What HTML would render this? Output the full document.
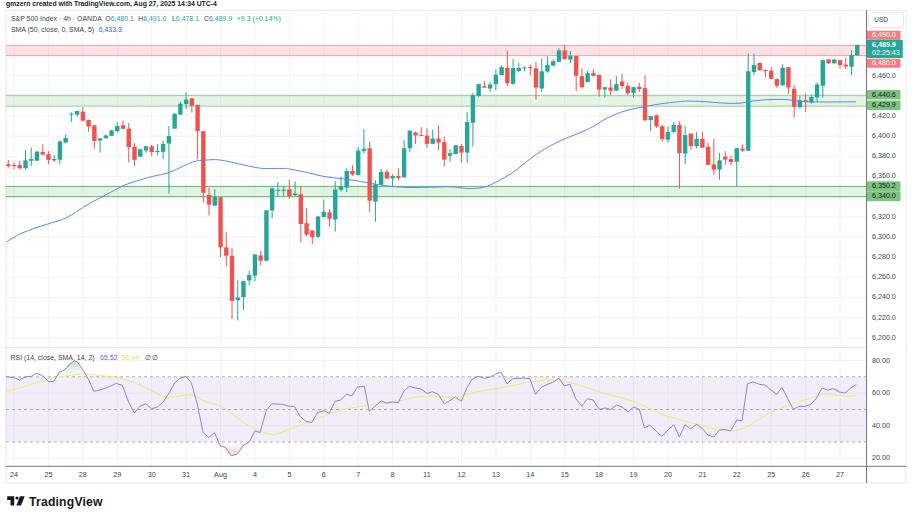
<!DOCTYPE html>
<html><head><meta charset="utf-8"><title>chart</title><style>
html,body{margin:0;padding:0;background:#fff;}
body{width:912px;height:513px;position:relative;overflow:hidden;font-family:"Liberation Sans",sans-serif;}
.t{position:absolute;white-space:nowrap;font-size:7.2px;line-height:10px;height:10px;color:#40434e;}
.hd{font-weight:bold;color:#20232c;font-size:6.85px;}
.lg{color:#40434e;font-size:6.95px;}
.lg b{font-weight:normal;color:#26a69a;}
.lg i{font-style:normal;color:#2962ff;}
.lg u{text-decoration:none;color:#7e57c2;}
.lg s{text-decoration:none;color:#f2e04a;}
.w{color:#fff;}
.k{color:#131722;}
.b{font-weight:bold;}
.logo{font-weight:bold;font-size:12.2px;color:#131722;line-height:14px;height:14px;letter-spacing:0.2px;}
</style></head><body>
<svg width="912" height="513" viewBox="0 0 912 513" style="position:absolute;left:0;top:0">
<rect x="6" y="10.2" width="900" height="472.8" fill="#fff" stroke="#e6e6ea" stroke-width="1"/>
<path d="M14.0 10.2V466.3 M48.4 10.2V466.3 M82.8 10.2V466.3 M117.3 10.2V466.3 M151.7 10.2V466.3 M186.1 10.2V466.3 M220.5 10.2V466.3 M254.9 10.2V466.3 M289.4 10.2V466.3 M323.8 10.2V466.3 M358.2 10.2V466.3 M392.6 10.2V466.3 M427.0 10.2V466.3 M461.5 10.2V466.3 M495.9 10.2V466.3 M530.3 10.2V466.3 M564.7 10.2V466.3 M599.1 10.2V466.3 M633.6 10.2V466.3 M668.0 10.2V466.3 M702.4 10.2V466.3 M736.8 10.2V466.3 M771.2 10.2V466.3 M805.7 10.2V466.3 M840.1 10.2V466.3 M6 337.8H866.5 M6 317.7H866.5 M6 297.5H866.5 M6 277.3H866.5 M6 257.2H866.5 M6 237.0H866.5 M6 216.9H866.5 M6 196.7H866.5 M6 176.5H866.5 M6 156.4H866.5 M6 136.2H866.5 M6 116.1H866.5 M6 95.9H866.5 M6 75.7H866.5 M6 55.6H866.5 M6 360.5H866.5 M6 393.1H866.5 M6 425.7H866.5 M6 458.3H866.5" stroke="#f3f3f6" stroke-width="1" fill="none"/>
<path d="M6 347.5H906" stroke="#e6e6ea" stroke-width="1"/>
<rect x="6" y="45.5" width="860.5" height="10.1" fill="rgba(242,54,69,0.15)"/>
<path d="M6 45.5H866.5M6 55.6H866.5" stroke="#f4a3a8" stroke-width="1"/>
<rect x="6" y="95.3" width="860.5" height="10.8" fill="rgba(76,175,80,0.14)"/>
<path d="M6 95.3H866.5M6 106.1H866.5" stroke="#93cf96" stroke-width="1"/>
<rect x="6" y="186.4" width="860.5" height="10.3" fill="rgba(76,175,80,0.16)"/>
<path d="M6 186.4H866.5M6 196.7H866.5" stroke="#5cb860" stroke-width="1"/>
<path d="M8.30 159.8V167.7" stroke="#ef5350" stroke-width="1"/>
<rect x="6.10" y="164.2" width="4.4" height="1.8" fill="#ef5350"/>
<path d="M14.04 162.5V169.5" stroke="#ef5350" stroke-width="1"/>
<rect x="11.84" y="165.0" width="4.4" height="1.0" fill="#ef5350"/>
<path d="M19.77 160.7V169.5" stroke="#ef5350" stroke-width="1"/>
<rect x="17.57" y="165.0" width="4.4" height="3.2" fill="#ef5350"/>
<path d="M25.51 150.0V169.5" stroke="#26a69a" stroke-width="1"/>
<rect x="23.31" y="160.4" width="4.4" height="7.8" fill="#26a69a"/>
<path d="M31.24 147.5V166.0" stroke="#26a69a" stroke-width="1"/>
<rect x="29.04" y="159.0" width="4.4" height="1.7" fill="#26a69a"/>
<path d="M36.98 151.1V161.0" stroke="#26a69a" stroke-width="1"/>
<rect x="34.78" y="151.6" width="4.4" height="9.1" fill="#26a69a"/>
<path d="M42.72 144.5V155.0" stroke="#ef5350" stroke-width="1"/>
<rect x="40.52" y="152.0" width="4.4" height="2.6" fill="#ef5350"/>
<path d="M48.45 151.0V164.2" stroke="#ef5350" stroke-width="1"/>
<rect x="46.25" y="154.2" width="4.4" height="5.6" fill="#ef5350"/>
<path d="M54.19 155.0V162.0" stroke="#26a69a" stroke-width="1"/>
<rect x="51.99" y="159.0" width="4.4" height="1.4" fill="#26a69a"/>
<path d="M59.92 140.5V163.9" stroke="#26a69a" stroke-width="1"/>
<rect x="57.72" y="141.4" width="4.4" height="18.4" fill="#26a69a"/>
<path d="M65.66 134.4V143.2" stroke="#26a69a" stroke-width="1"/>
<rect x="63.46" y="137.9" width="4.4" height="4.7" fill="#26a69a"/>
<path d="M71.40 112.5V121.8" stroke="#26a69a" stroke-width="1"/>
<rect x="69.20" y="113.7" width="4.4" height="1.0" fill="#26a69a"/>
<path d="M77.13 110.7V116.5" stroke="#26a69a" stroke-width="1"/>
<rect x="74.93" y="111.0" width="4.4" height="3.6" fill="#26a69a"/>
<path d="M82.87 107.2V121.2" stroke="#ef5350" stroke-width="1"/>
<rect x="80.67" y="111.6" width="4.4" height="9.1" fill="#ef5350"/>
<path d="M88.60 119.5V131.8" stroke="#ef5350" stroke-width="1"/>
<rect x="86.40" y="120.0" width="4.4" height="6.5" fill="#ef5350"/>
<path d="M94.34 124.7V148.8" stroke="#ef5350" stroke-width="1"/>
<rect x="92.14" y="125.3" width="4.4" height="15.6" fill="#ef5350"/>
<path d="M100.08 137.9V152.8" stroke="#26a69a" stroke-width="1"/>
<rect x="97.88" y="138.4" width="4.4" height="2.1" fill="#26a69a"/>
<path d="M105.81 134.8V138.7" stroke="#26a69a" stroke-width="1"/>
<rect x="103.61" y="135.4" width="4.4" height="2.8" fill="#26a69a"/>
<path d="M111.55 130.0V136.1" stroke="#26a69a" stroke-width="1"/>
<rect x="109.35" y="130.5" width="4.4" height="5.3" fill="#26a69a"/>
<path d="M117.28 122.0V132.6" stroke="#26a69a" stroke-width="1"/>
<rect x="115.08" y="126.0" width="4.4" height="5.2" fill="#26a69a"/>
<path d="M123.02 120.4V129.0" stroke="#ef5350" stroke-width="1"/>
<rect x="120.82" y="125.3" width="4.4" height="3.5" fill="#ef5350"/>
<path d="M128.76 123.0V162.5" stroke="#ef5350" stroke-width="1"/>
<rect x="126.56" y="128.8" width="4.4" height="18.4" fill="#ef5350"/>
<path d="M134.49 143.2V166.0" stroke="#ef5350" stroke-width="1"/>
<rect x="132.29" y="146.7" width="4.4" height="13.1" fill="#ef5350"/>
<path d="M140.23 149.0V157.2" stroke="#26a69a" stroke-width="1"/>
<rect x="138.03" y="149.3" width="4.4" height="7.4" fill="#26a69a"/>
<path d="M145.96 145.8V152.8" stroke="#26a69a" stroke-width="1"/>
<rect x="143.76" y="146.3" width="4.4" height="4.2" fill="#26a69a"/>
<path d="M151.70 145.0V156.3" stroke="#ef5350" stroke-width="1"/>
<rect x="149.50" y="146.3" width="4.4" height="5.7" fill="#ef5350"/>
<path d="M157.44 144.0V155.4" stroke="#26a69a" stroke-width="1"/>
<rect x="155.24" y="151.0" width="4.4" height="1.0" fill="#26a69a"/>
<path d="M163.17 140.9V159.3" stroke="#26a69a" stroke-width="1"/>
<rect x="160.97" y="144.0" width="4.4" height="7.8" fill="#26a69a"/>
<path d="M168.91 126.0V193.7" stroke="#26a69a" stroke-width="1"/>
<rect x="166.71" y="136.0" width="4.4" height="7.5" fill="#26a69a"/>
<path d="M174.64 113.3V129.0" stroke="#26a69a" stroke-width="1"/>
<rect x="172.44" y="113.7" width="4.4" height="14.9" fill="#26a69a"/>
<path d="M180.38 101.4V115.0" stroke="#26a69a" stroke-width="1"/>
<rect x="178.18" y="103.7" width="4.4" height="10.9" fill="#26a69a"/>
<path d="M186.12 92.1V109.0" stroke="#26a69a" stroke-width="1"/>
<rect x="183.92" y="99.6" width="4.4" height="4.4" fill="#26a69a"/>
<path d="M191.85 97.9V112.5" stroke="#ef5350" stroke-width="1"/>
<rect x="189.65" y="98.4" width="4.4" height="7.4" fill="#ef5350"/>
<path d="M197.59 104.9V159.3" stroke="#ef5350" stroke-width="1"/>
<rect x="195.39" y="104.9" width="4.4" height="26.3" fill="#ef5350"/>
<path d="M203.32 131.2V202.5" stroke="#ef5350" stroke-width="1"/>
<rect x="201.12" y="131.2" width="4.4" height="61.6" fill="#ef5350"/>
<path d="M209.06 187.5V215.6" stroke="#ef5350" stroke-width="1"/>
<rect x="206.86" y="195.0" width="4.4" height="9.7" fill="#ef5350"/>
<path d="M214.80 189.0V206.0" stroke="#26a69a" stroke-width="1"/>
<rect x="212.60" y="196.8" width="4.4" height="8.8" fill="#26a69a"/>
<path d="M220.53 197.2V256.8" stroke="#ef5350" stroke-width="1"/>
<rect x="218.33" y="197.2" width="4.4" height="50.1" fill="#ef5350"/>
<path d="M226.27 232.3V266.3" stroke="#ef5350" stroke-width="1"/>
<rect x="224.07" y="247.3" width="4.4" height="8.4" fill="#ef5350"/>
<path d="M232.00 247.9V319.0" stroke="#ef5350" stroke-width="1"/>
<rect x="229.80" y="255.8" width="4.4" height="45.1" fill="#ef5350"/>
<path d="M237.74 280.4V320.4" stroke="#26a69a" stroke-width="1"/>
<rect x="235.54" y="297.5" width="4.4" height="2.7" fill="#26a69a"/>
<path d="M243.48 280.7V310.2" stroke="#26a69a" stroke-width="1"/>
<rect x="241.28" y="281.2" width="4.4" height="15.8" fill="#26a69a"/>
<path d="M249.21 270.7V285.3" stroke="#26a69a" stroke-width="1"/>
<rect x="247.01" y="275.0" width="4.4" height="5.4" fill="#26a69a"/>
<path d="M254.95 254.0V281.2" stroke="#26a69a" stroke-width="1"/>
<rect x="252.75" y="254.4" width="4.4" height="21.2" fill="#26a69a"/>
<path d="M260.68 250.9V265.0" stroke="#ef5350" stroke-width="1"/>
<rect x="258.48" y="255.4" width="4.4" height="5.3" fill="#ef5350"/>
<path d="M266.42 210.0V261.4" stroke="#26a69a" stroke-width="1"/>
<rect x="264.22" y="210.4" width="4.4" height="50.3" fill="#26a69a"/>
<path d="M272.16 187.5V218.2" stroke="#26a69a" stroke-width="1"/>
<rect x="269.96" y="188.4" width="4.4" height="22.0" fill="#26a69a"/>
<path d="M277.89 181.9V197.2" stroke="#26a69a" stroke-width="1"/>
<rect x="275.69" y="189.8" width="4.4" height="1.0" fill="#26a69a"/>
<path d="M283.63 185.8V196.3" stroke="#26a69a" stroke-width="1"/>
<rect x="281.43" y="189.6" width="4.4" height="1.1" fill="#26a69a"/>
<path d="M289.36 179.6V199.0" stroke="#ef5350" stroke-width="1"/>
<rect x="287.16" y="189.3" width="4.4" height="7.0" fill="#ef5350"/>
<path d="M295.10 181.2V196.0" stroke="#26a69a" stroke-width="1"/>
<rect x="292.90" y="193.5" width="4.4" height="1.7" fill="#26a69a"/>
<path d="M300.84 186.3V242.5" stroke="#ef5350" stroke-width="1"/>
<rect x="298.64" y="194.4" width="4.4" height="29.6" fill="#ef5350"/>
<path d="M306.57 208.2V236.3" stroke="#ef5350" stroke-width="1"/>
<rect x="304.37" y="223.2" width="4.4" height="11.4" fill="#ef5350"/>
<path d="M312.31 230.2V244.2" stroke="#ef5350" stroke-width="1"/>
<rect x="310.11" y="230.5" width="4.4" height="6.7" fill="#ef5350"/>
<path d="M318.04 216.0V238.0" stroke="#26a69a" stroke-width="1"/>
<rect x="315.84" y="216.5" width="4.4" height="20.3" fill="#26a69a"/>
<path d="M323.78 199.5V217.4" stroke="#26a69a" stroke-width="1"/>
<rect x="321.58" y="211.8" width="4.4" height="5.2" fill="#26a69a"/>
<path d="M329.52 209.0V226.7" stroke="#ef5350" stroke-width="1"/>
<rect x="327.32" y="212.3" width="4.4" height="6.5" fill="#ef5350"/>
<path d="M335.25 181.4V231.6" stroke="#26a69a" stroke-width="1"/>
<rect x="333.05" y="189.5" width="4.4" height="30.1" fill="#26a69a"/>
<path d="M340.99 176.7V191.6" stroke="#26a69a" stroke-width="1"/>
<rect x="338.79" y="186.3" width="4.4" height="3.5" fill="#26a69a"/>
<path d="M346.72 168.2V192.0" stroke="#26a69a" stroke-width="1"/>
<rect x="344.52" y="171.0" width="4.4" height="16.7" fill="#26a69a"/>
<path d="M352.46 165.3V175.8" stroke="#ef5350" stroke-width="1"/>
<rect x="350.26" y="171.0" width="4.4" height="3.5" fill="#ef5350"/>
<path d="M358.20 147.0V175.4" stroke="#26a69a" stroke-width="1"/>
<rect x="356.00" y="150.5" width="4.4" height="24.5" fill="#26a69a"/>
<path d="M363.93 129.0V153.5" stroke="#26a69a" stroke-width="1"/>
<rect x="361.73" y="148.8" width="4.4" height="2.1" fill="#26a69a"/>
<path d="M369.67 141.8V212.3" stroke="#ef5350" stroke-width="1"/>
<rect x="367.47" y="148.2" width="4.4" height="52.5" fill="#ef5350"/>
<path d="M375.40 180.3V221.8" stroke="#26a69a" stroke-width="1"/>
<rect x="373.20" y="184.2" width="4.4" height="17.4" fill="#26a69a"/>
<path d="M381.14 169.0V185.0" stroke="#26a69a" stroke-width="1"/>
<rect x="378.94" y="171.9" width="4.4" height="12.8" fill="#26a69a"/>
<path d="M386.88 169.4V179.0" stroke="#ef5350" stroke-width="1"/>
<rect x="384.68" y="171.9" width="4.4" height="6.6" fill="#ef5350"/>
<path d="M392.61 174.3V186.2" stroke="#26a69a" stroke-width="1"/>
<rect x="390.41" y="176.0" width="4.4" height="2.5" fill="#26a69a"/>
<path d="M398.35 168.0V180.5" stroke="#ef5350" stroke-width="1"/>
<rect x="396.15" y="176.1" width="4.4" height="1.8" fill="#ef5350"/>
<path d="M404.08 140.0V178.2" stroke="#26a69a" stroke-width="1"/>
<rect x="401.88" y="148.2" width="4.4" height="29.0" fill="#26a69a"/>
<path d="M409.82 130.4V152.3" stroke="#26a69a" stroke-width="1"/>
<rect x="407.62" y="130.7" width="4.4" height="17.5" fill="#26a69a"/>
<path d="M415.56 131.6V143.9" stroke="#ef5350" stroke-width="1"/>
<rect x="413.36" y="132.5" width="4.4" height="2.9" fill="#ef5350"/>
<path d="M421.29 127.2V136.0" stroke="#ef5350" stroke-width="1"/>
<rect x="419.09" y="135.1" width="4.4" height="1.0" fill="#ef5350"/>
<path d="M427.03 128.0V148.2" stroke="#ef5350" stroke-width="1"/>
<rect x="424.83" y="135.6" width="4.4" height="8.3" fill="#ef5350"/>
<path d="M432.76 129.5V144.2" stroke="#26a69a" stroke-width="1"/>
<rect x="430.56" y="138.6" width="4.4" height="5.3" fill="#26a69a"/>
<path d="M438.50 125.0V150.0" stroke="#ef5350" stroke-width="1"/>
<rect x="436.30" y="138.6" width="4.4" height="4.0" fill="#ef5350"/>
<path d="M444.24 136.5V166.7" stroke="#ef5350" stroke-width="1"/>
<rect x="442.04" y="142.1" width="4.4" height="17.5" fill="#ef5350"/>
<path d="M449.97 149.1V161.8" stroke="#26a69a" stroke-width="1"/>
<rect x="447.77" y="153.2" width="4.4" height="2.6" fill="#26a69a"/>
<path d="M455.71 145.0V154.4" stroke="#26a69a" stroke-width="1"/>
<rect x="453.51" y="145.3" width="4.4" height="8.7" fill="#26a69a"/>
<path d="M461.44 144.2V162.8" stroke="#ef5350" stroke-width="1"/>
<rect x="459.24" y="146.0" width="4.4" height="6.6" fill="#ef5350"/>
<path d="M467.18 112.2V162.8" stroke="#26a69a" stroke-width="1"/>
<rect x="464.98" y="122.0" width="4.4" height="30.6" fill="#26a69a"/>
<path d="M472.92 92.9V146.5" stroke="#26a69a" stroke-width="1"/>
<rect x="470.72" y="95.2" width="4.4" height="27.5" fill="#26a69a"/>
<path d="M478.65 83.8V97.3" stroke="#26a69a" stroke-width="1"/>
<rect x="476.45" y="84.1" width="4.4" height="11.9" fill="#26a69a"/>
<path d="M484.39 81.0V88.2" stroke="#ef5350" stroke-width="1"/>
<rect x="482.19" y="86.2" width="4.4" height="1.4" fill="#ef5350"/>
<path d="M490.12 82.4V92.0" stroke="#26a69a" stroke-width="1"/>
<rect x="487.92" y="84.5" width="4.4" height="4.0" fill="#26a69a"/>
<path d="M495.86 69.2V90.3" stroke="#26a69a" stroke-width="1"/>
<rect x="493.66" y="74.5" width="4.4" height="9.6" fill="#26a69a"/>
<path d="M501.60 65.7V75.4" stroke="#26a69a" stroke-width="1"/>
<rect x="499.40" y="67.1" width="4.4" height="7.9" fill="#26a69a"/>
<path d="M507.33 50.8V86.2" stroke="#ef5350" stroke-width="1"/>
<rect x="505.13" y="67.8" width="4.4" height="15.4" fill="#ef5350"/>
<path d="M513.07 59.2V85.0" stroke="#26a69a" stroke-width="1"/>
<rect x="510.87" y="68.0" width="4.4" height="15.8" fill="#26a69a"/>
<path d="M518.80 63.0V72.4" stroke="#26a69a" stroke-width="1"/>
<rect x="516.60" y="68.0" width="4.4" height="3.0" fill="#26a69a"/>
<path d="M524.54 66.6V71.5" stroke="#26a69a" stroke-width="1"/>
<rect x="522.34" y="67.5" width="4.4" height="1.0" fill="#26a69a"/>
<path d="M530.28 64.5V75.4" stroke="#ef5350" stroke-width="1"/>
<rect x="528.08" y="67.1" width="4.4" height="1.0" fill="#ef5350"/>
<path d="M536.01 61.7V99.6" stroke="#ef5350" stroke-width="1"/>
<rect x="533.81" y="68.3" width="4.4" height="19.3" fill="#ef5350"/>
<path d="M541.75 58.3V92.0" stroke="#26a69a" stroke-width="1"/>
<rect x="539.55" y="71.3" width="4.4" height="17.2" fill="#26a69a"/>
<path d="M547.48 56.4V72.7" stroke="#26a69a" stroke-width="1"/>
<rect x="545.28" y="64.8" width="4.4" height="6.7" fill="#26a69a"/>
<path d="M553.22 59.6V66.2" stroke="#26a69a" stroke-width="1"/>
<rect x="551.02" y="61.3" width="4.4" height="4.4" fill="#26a69a"/>
<path d="M558.96 48.2V62.2" stroke="#26a69a" stroke-width="1"/>
<rect x="556.76" y="50.4" width="4.4" height="11.4" fill="#26a69a"/>
<path d="M564.69 44.6V59.6" stroke="#ef5350" stroke-width="1"/>
<rect x="562.49" y="50.4" width="4.4" height="8.8" fill="#ef5350"/>
<path d="M570.43 51.1V63.1" stroke="#26a69a" stroke-width="1"/>
<rect x="568.23" y="55.7" width="4.4" height="3.9" fill="#26a69a"/>
<path d="M576.16 55.7V91.1" stroke="#ef5350" stroke-width="1"/>
<rect x="573.96" y="56.0" width="4.4" height="19.7" fill="#ef5350"/>
<path d="M581.90 68.3V88.5" stroke="#ef5350" stroke-width="1"/>
<rect x="579.70" y="76.2" width="4.4" height="11.1" fill="#ef5350"/>
<path d="M587.64 70.6V82.4" stroke="#26a69a" stroke-width="1"/>
<rect x="585.44" y="73.2" width="4.4" height="8.8" fill="#26a69a"/>
<path d="M593.37 69.0V76.2" stroke="#ef5350" stroke-width="1"/>
<rect x="591.17" y="73.2" width="4.4" height="2.6" fill="#ef5350"/>
<path d="M599.11 74.6V96.6" stroke="#ef5350" stroke-width="1"/>
<rect x="596.91" y="75.0" width="4.4" height="14.6" fill="#ef5350"/>
<path d="M604.84 86.8V97.5" stroke="#26a69a" stroke-width="1"/>
<rect x="602.64" y="87.2" width="4.4" height="2.3" fill="#26a69a"/>
<path d="M610.58 79.3V95.1" stroke="#ef5350" stroke-width="1"/>
<rect x="608.38" y="87.5" width="4.4" height="3.2" fill="#ef5350"/>
<path d="M616.32 76.1V91.2" stroke="#26a69a" stroke-width="1"/>
<rect x="614.12" y="84.2" width="4.4" height="6.5" fill="#26a69a"/>
<path d="M622.05 74.0V89.0" stroke="#ef5350" stroke-width="1"/>
<rect x="619.85" y="81.4" width="4.4" height="4.6" fill="#ef5350"/>
<path d="M627.79 82.8V95.1" stroke="#ef5350" stroke-width="1"/>
<rect x="625.59" y="86.0" width="4.4" height="7.3" fill="#ef5350"/>
<path d="M633.52 86.7V97.7" stroke="#26a69a" stroke-width="1"/>
<rect x="631.32" y="87.2" width="4.4" height="5.6" fill="#26a69a"/>
<path d="M639.26 82.8V92.1" stroke="#ef5350" stroke-width="1"/>
<rect x="637.06" y="86.8" width="4.4" height="2.2" fill="#ef5350"/>
<path d="M645.00 75.4V121.4" stroke="#ef5350" stroke-width="1"/>
<rect x="642.80" y="88.1" width="4.4" height="32.1" fill="#ef5350"/>
<path d="M650.73 115.8V131.6" stroke="#26a69a" stroke-width="1"/>
<rect x="648.53" y="116.1" width="4.4" height="3.9" fill="#26a69a"/>
<path d="M656.47 114.4V127.8" stroke="#ef5350" stroke-width="1"/>
<rect x="654.27" y="115.3" width="4.4" height="11.1" fill="#ef5350"/>
<path d="M662.20 124.7V141.8" stroke="#ef5350" stroke-width="1"/>
<rect x="660.00" y="126.3" width="4.4" height="12.7" fill="#ef5350"/>
<path d="M667.94 126.5V142.5" stroke="#26a69a" stroke-width="1"/>
<rect x="665.74" y="131.9" width="4.4" height="7.7" fill="#26a69a"/>
<path d="M673.68 122.0V133.2" stroke="#26a69a" stroke-width="1"/>
<rect x="671.48" y="124.9" width="4.4" height="7.0" fill="#26a69a"/>
<path d="M679.41 121.4V188.6" stroke="#ef5350" stroke-width="1"/>
<rect x="677.21" y="124.9" width="4.4" height="28.1" fill="#ef5350"/>
<path d="M685.15 126.0V164.0" stroke="#26a69a" stroke-width="1"/>
<rect x="682.95" y="135.1" width="4.4" height="18.4" fill="#26a69a"/>
<path d="M690.88 133.3V149.5" stroke="#ef5350" stroke-width="1"/>
<rect x="688.68" y="133.7" width="4.4" height="12.3" fill="#ef5350"/>
<path d="M696.62 131.9V148.6" stroke="#26a69a" stroke-width="1"/>
<rect x="694.42" y="138.8" width="4.4" height="7.4" fill="#26a69a"/>
<path d="M702.36 131.8V148.2" stroke="#ef5350" stroke-width="1"/>
<rect x="700.16" y="139.0" width="4.4" height="8.7" fill="#ef5350"/>
<path d="M708.09 142.5V165.3" stroke="#ef5350" stroke-width="1"/>
<rect x="705.89" y="146.8" width="4.4" height="18.1" fill="#ef5350"/>
<path d="M713.83 138.8V174.9" stroke="#ef5350" stroke-width="1"/>
<rect x="711.63" y="164.4" width="4.4" height="5.2" fill="#ef5350"/>
<path d="M719.56 153.0V179.8" stroke="#26a69a" stroke-width="1"/>
<rect x="717.36" y="160.4" width="4.4" height="9.2" fill="#26a69a"/>
<path d="M725.30 151.2V164.9" stroke="#ef5350" stroke-width="1"/>
<rect x="723.10" y="156.5" width="4.4" height="3.1" fill="#ef5350"/>
<path d="M731.04 156.0V165.3" stroke="#ef5350" stroke-width="1"/>
<rect x="728.84" y="159.1" width="4.4" height="3.0" fill="#ef5350"/>
<path d="M736.77 147.9V186.3" stroke="#26a69a" stroke-width="1"/>
<rect x="734.57" y="148.2" width="4.4" height="13.6" fill="#26a69a"/>
<path d="M742.51 144.2V151.8" stroke="#ef5350" stroke-width="1"/>
<rect x="740.31" y="148.6" width="4.4" height="2.1" fill="#ef5350"/>
<path d="M748.24 53.7V151.0" stroke="#26a69a" stroke-width="1"/>
<rect x="746.04" y="71.3" width="4.4" height="79.4" fill="#26a69a"/>
<path d="M753.98 53.7V75.3" stroke="#26a69a" stroke-width="1"/>
<rect x="751.78" y="65.1" width="4.4" height="7.0" fill="#26a69a"/>
<path d="M759.72 62.5V70.7" stroke="#ef5350" stroke-width="1"/>
<rect x="757.52" y="63.0" width="4.4" height="7.4" fill="#ef5350"/>
<path d="M765.45 69.5V77.4" stroke="#ef5350" stroke-width="1"/>
<rect x="763.25" y="70.0" width="4.4" height="1.0" fill="#ef5350"/>
<path d="M771.19 67.2V79.1" stroke="#ef5350" stroke-width="1"/>
<rect x="768.99" y="70.7" width="4.4" height="8.1" fill="#ef5350"/>
<path d="M776.92 78.8V87.9" stroke="#ef5350" stroke-width="1"/>
<rect x="774.72" y="79.1" width="4.4" height="6.7" fill="#ef5350"/>
<path d="M782.66 64.2V85.8" stroke="#26a69a" stroke-width="1"/>
<rect x="780.46" y="67.7" width="4.4" height="17.6" fill="#26a69a"/>
<path d="M788.40 66.8V94.0" stroke="#ef5350" stroke-width="1"/>
<rect x="786.20" y="67.2" width="4.4" height="20.3" fill="#ef5350"/>
<path d="M794.13 84.7V117.2" stroke="#ef5350" stroke-width="1"/>
<rect x="791.93" y="88.8" width="4.4" height="18.0" fill="#ef5350"/>
<path d="M799.87 95.8V108.4" stroke="#26a69a" stroke-width="1"/>
<rect x="797.67" y="100.2" width="4.4" height="7.0" fill="#26a69a"/>
<path d="M805.60 93.2V112.1" stroke="#ef5350" stroke-width="1"/>
<rect x="803.40" y="100.2" width="4.4" height="1.7" fill="#ef5350"/>
<path d="M811.34 94.6V103.7" stroke="#26a69a" stroke-width="1"/>
<rect x="809.14" y="97.0" width="4.4" height="5.5" fill="#26a69a"/>
<path d="M817.08 82.6V102.5" stroke="#26a69a" stroke-width="1"/>
<rect x="814.88" y="84.4" width="4.4" height="13.1" fill="#26a69a"/>
<path d="M822.81 59.8V97.5" stroke="#26a69a" stroke-width="1"/>
<rect x="820.61" y="60.2" width="4.4" height="25.6" fill="#26a69a"/>
<path d="M828.55 59.0V63.7" stroke="#ef5350" stroke-width="1"/>
<rect x="826.35" y="59.5" width="4.4" height="3.8" fill="#ef5350"/>
<path d="M834.28 59.0V63.7" stroke="#26a69a" stroke-width="1"/>
<rect x="832.08" y="59.5" width="4.4" height="3.8" fill="#26a69a"/>
<path d="M840.02 59.8V68.6" stroke="#ef5350" stroke-width="1"/>
<rect x="837.82" y="60.2" width="4.4" height="4.9" fill="#ef5350"/>
<path d="M845.76 58.1V68.9" stroke="#ef5350" stroke-width="1"/>
<rect x="843.56" y="64.7" width="4.4" height="1.8" fill="#ef5350"/>
<path d="M851.49 50.2V75.3" stroke="#26a69a" stroke-width="1"/>
<rect x="849.29" y="54.9" width="4.4" height="11.9" fill="#26a69a"/>
<path d="M857.23 44.5V55.8" stroke="#26a69a" stroke-width="1"/>
<rect x="855.03" y="44.9" width="4.4" height="10.5" fill="#26a69a"/>
<path d="M6.4 242.0C8.6 240.7 14.7 236.5 19.5 234.2C24.3 231.9 30.2 229.8 35.1 228.0C40.0 226.2 43.5 225.4 48.7 223.7C53.9 222.0 59.8 221.0 66.3 217.8C72.8 214.6 81.2 208.4 87.7 204.6C94.2 200.8 99.1 198.4 105.3 195.2C111.5 191.9 118.9 187.7 124.8 185.1C130.7 182.5 135.4 181.4 140.4 179.8C145.4 178.2 150.2 177.0 155.0 175.8C159.8 174.6 162.7 174.8 169.0 172.5C175.3 170.2 186.6 164.1 192.6 162.0C198.6 159.9 201.2 160.6 205.0 160.2C208.8 159.8 211.9 159.5 215.4 159.6C218.9 159.7 222.2 160.3 226.0 161.0C229.8 161.7 234.0 162.8 238.0 163.7C242.0 164.6 245.9 165.5 250.0 166.3C254.1 167.1 257.2 168.1 262.8 168.4C268.4 168.8 279.4 168.3 283.9 168.4C288.4 168.5 286.1 168.4 290.0 169.1C293.9 169.8 301.7 171.3 307.5 172.6C313.3 173.9 319.1 175.7 325.0 176.7C330.9 177.7 336.7 178.0 342.6 178.8C348.5 179.6 354.4 180.4 360.2 181.4C366.0 182.4 371.8 183.7 377.7 184.6C383.6 185.5 389.4 186.3 395.3 186.8C401.2 187.3 407.0 187.4 412.8 187.5C418.6 187.6 424.2 187.3 430.4 187.2C436.6 187.1 445.1 186.7 450.0 186.8C454.9 186.9 456.3 187.4 460.0 187.7C463.7 188.0 467.9 188.8 472.3 188.6C476.7 188.4 481.9 187.8 486.3 186.5C490.7 185.2 494.5 182.8 498.6 180.7C502.7 178.6 507.1 176.2 510.9 173.7C514.7 171.2 518.2 168.3 521.4 165.8C524.6 163.3 527.3 161.0 530.2 158.8C533.1 156.6 535.5 154.8 539.0 152.6C542.5 150.3 546.8 147.6 551.2 145.3C555.6 143.0 560.0 140.9 565.3 138.6C570.6 136.3 577.8 133.8 582.8 131.6C587.8 129.4 591.5 127.5 595.6 125.2C599.7 122.9 602.6 120.3 607.5 117.9C612.4 115.5 619.2 112.7 625.1 110.9C631.0 109.1 636.8 108.2 642.6 107.0C648.5 105.8 654.4 104.8 660.2 103.9C666.1 103.0 673.0 102.3 677.7 101.8C682.4 101.3 683.8 101.1 688.2 101.1C692.6 101.1 698.4 101.3 704.0 101.6C709.6 101.9 715.8 102.7 721.6 103.0C727.4 103.3 733.9 103.5 739.0 103.2C744.1 102.9 747.3 101.6 752.5 101.0C757.7 100.4 764.4 99.8 770.0 99.6C775.6 99.4 781.6 99.4 786.0 99.6C790.4 99.8 791.7 100.6 796.4 101.0C801.1 101.4 804.1 101.8 814.0 101.9C823.9 102.1 849.0 101.9 856.0 101.9" stroke="#5b86f5" stroke-width="1" fill="none" stroke-linejoin="round"/>
<rect x="6" y="376.8" width="860.5" height="65.19999999999999" fill="rgba(126,87,194,0.1)"/>
<path d="M6 376.8H866.5M6 409.5H866.5M6 442H866.5" stroke="#9a9ca6" stroke-width="0.8" stroke-dasharray="3 3" fill="none"/>
<defs><linearGradient id="og" gradientUnits="userSpaceOnUse" x1="0" y1="328" x2="0" y2="376.8"><stop offset="0" stop-color="#4caf50" stop-opacity="1"/><stop offset="1" stop-color="#4caf50" stop-opacity="0"/></linearGradient><linearGradient id="os" gradientUnits="userSpaceOnUse" x1="0" y1="442" x2="0" y2="491"><stop offset="0" stop-color="#ff5252" stop-opacity="0"/><stop offset="1" stop-color="#ff5252" stop-opacity="1"/></linearGradient><clipPath id="c70"><rect x="0" y="340" width="912" height="36.80000000000001"/></clipPath><clipPath id="c30"><rect x="0" y="442" width="912" height="40"/></clipPath></defs>
<path d="M6.2 376.8 L13.8 377.5 L19.5 380.0 L25.0 377.0 L31.3 376.3 L36.3 373.3 L42.5 375.5 L48.8 381.8 L53.8 381.3 L59.5 372.0 L64.5 370.0 L70.0 363.8 L74.3 360.8 L77.5 362.0 L83.8 371.3 L88.8 380.0 L93.8 391.3 L100.0 390.0 L107.5 387.5 L116.3 383.3 L122.5 385.5 L128.8 402.5 L134.3 413.0 L140.0 406.3 L145.8 403.8 L151.8 408.8 L157.5 407.0 L163.8 401.3 L170.0 391.3 L175.0 382.5 L180.0 378.3 L185.8 376.3 L191.3 382.5 L197.5 405.0 L203.0 432.5 L208.8 437.5 L214.5 432.5 L220.0 445.5 L225.5 447.5 L231.3 455.8 L237.5 453.8 L243.8 445.0 L249.3 442.0 L255.0 430.8 L260.0 432.5 L266.3 410.5 L271.8 403.8 L282.5 404.3 L288.8 406.3 L294.5 406.3 L300.0 416.3 L305.8 421.3 L311.8 422.5 L317.5 412.5 L323.8 410.8 L329.3 413.3 L335.0 401.3 L340.8 400.0 L346.3 394.3 L352.0 395.8 L357.5 387.0 L364.3 386.3 L369.3 411.3 L375.0 406.3 L381.3 400.8 L386.3 403.0 L392.5 402.0 L398.3 402.5 L403.8 391.3 L409.3 386.3 L415.0 388.0 L420.8 388.8 L426.8 393.3 L432.5 391.8 L438.3 394.3 L444.3 404.0 L455.5 397.0 L461.3 401.3 L467.0 387.5 L472.5 378.8 L478.0 376.3 L484.5 378.3 L490.0 377.0 L495.5 374.3 L500.8 372.0 L507.0 383.8 L512.5 378.8 L523.8 378.0 L530.0 378.8 L535.5 394.3 L541.3 387.5 L547.0 384.5 L552.5 382.5 L558.8 378.3 L564.3 385.8 L570.0 384.3 L575.8 398.8 L581.8 406.3 L587.5 398.8 L593.0 400.0 L599.3 409.5 L605.0 408.0 L610.8 409.5 L616.3 405.0 L622.0 407.0 L628.0 411.8 L633.8 407.0 L639.3 409.3 L644.5 428.0 L650.0 425.0 L656.3 431.3 L661.8 436.3 L668.0 430.0 L673.8 424.5 L679.3 437.0 L685.0 424.5 L690.5 428.8 L696.8 424.3 L702.5 428.8 L708.0 435.0 L713.8 437.0 L719.5 430.0 L725.0 429.5 L730.8 430.8 L736.8 420.0 L742.0 420.8 L747.5 383.8 L753.3 381.8 L759.3 384.3 L765.0 385.0 L770.8 390.0 L776.8 394.3 L782.0 387.5 L787.5 398.3 L793.3 409.3 L799.3 406.3 L805.0 406.3 L810.8 404.3 L816.3 398.3 L822.0 388.0 L827.5 390.0 L833.3 388.8 L839.3 392.0 L845.0 393.0 L850.8 388.0 L856.3 384.3 L856.3 376.8 L6.25 376.8Z" fill="url(#og)" clip-path="url(#c70)"/>
<path d="M6.2 376.8 L13.8 377.5 L19.5 380.0 L25.0 377.0 L31.3 376.3 L36.3 373.3 L42.5 375.5 L48.8 381.8 L53.8 381.3 L59.5 372.0 L64.5 370.0 L70.0 363.8 L74.3 360.8 L77.5 362.0 L83.8 371.3 L88.8 380.0 L93.8 391.3 L100.0 390.0 L107.5 387.5 L116.3 383.3 L122.5 385.5 L128.8 402.5 L134.3 413.0 L140.0 406.3 L145.8 403.8 L151.8 408.8 L157.5 407.0 L163.8 401.3 L170.0 391.3 L175.0 382.5 L180.0 378.3 L185.8 376.3 L191.3 382.5 L197.5 405.0 L203.0 432.5 L208.8 437.5 L214.5 432.5 L220.0 445.5 L225.5 447.5 L231.3 455.8 L237.5 453.8 L243.8 445.0 L249.3 442.0 L255.0 430.8 L260.0 432.5 L266.3 410.5 L271.8 403.8 L282.5 404.3 L288.8 406.3 L294.5 406.3 L300.0 416.3 L305.8 421.3 L311.8 422.5 L317.5 412.5 L323.8 410.8 L329.3 413.3 L335.0 401.3 L340.8 400.0 L346.3 394.3 L352.0 395.8 L357.5 387.0 L364.3 386.3 L369.3 411.3 L375.0 406.3 L381.3 400.8 L386.3 403.0 L392.5 402.0 L398.3 402.5 L403.8 391.3 L409.3 386.3 L415.0 388.0 L420.8 388.8 L426.8 393.3 L432.5 391.8 L438.3 394.3 L444.3 404.0 L455.5 397.0 L461.3 401.3 L467.0 387.5 L472.5 378.8 L478.0 376.3 L484.5 378.3 L490.0 377.0 L495.5 374.3 L500.8 372.0 L507.0 383.8 L512.5 378.8 L523.8 378.0 L530.0 378.8 L535.5 394.3 L541.3 387.5 L547.0 384.5 L552.5 382.5 L558.8 378.3 L564.3 385.8 L570.0 384.3 L575.8 398.8 L581.8 406.3 L587.5 398.8 L593.0 400.0 L599.3 409.5 L605.0 408.0 L610.8 409.5 L616.3 405.0 L622.0 407.0 L628.0 411.8 L633.8 407.0 L639.3 409.3 L644.5 428.0 L650.0 425.0 L656.3 431.3 L661.8 436.3 L668.0 430.0 L673.8 424.5 L679.3 437.0 L685.0 424.5 L690.5 428.8 L696.8 424.3 L702.5 428.8 L708.0 435.0 L713.8 437.0 L719.5 430.0 L725.0 429.5 L730.8 430.8 L736.8 420.0 L742.0 420.8 L747.5 383.8 L753.3 381.8 L759.3 384.3 L765.0 385.0 L770.8 390.0 L776.8 394.3 L782.0 387.5 L787.5 398.3 L793.3 409.3 L799.3 406.3 L805.0 406.3 L810.8 404.3 L816.3 398.3 L822.0 388.0 L827.5 390.0 L833.3 388.8 L839.3 392.0 L845.0 393.0 L850.8 388.0 L856.3 384.3 L856.3 442 L6.25 442Z" fill="url(#os)" clip-path="url(#c30)"/>
<path d="M6.2 391.8C9.4 390.9 18.5 388.3 25.0 386.3C31.5 384.3 38.8 381.7 45.0 380.0C51.2 378.3 56.7 377.2 62.5 376.3C68.3 375.4 74.6 374.5 80.0 374.3C85.4 374.1 88.3 374.3 95.0 375.0C101.7 375.7 112.5 376.6 120.0 378.3C127.5 380.0 134.2 382.6 140.0 385.0C145.8 387.4 150.4 390.4 155.0 392.5C159.6 394.6 163.3 396.9 167.5 397.5C171.7 398.1 175.8 396.2 180.0 395.8C184.2 395.4 188.3 394.1 192.5 395.0C196.7 395.9 200.8 399.6 205.0 401.3C209.2 403.0 213.7 403.5 217.5 405.0C221.3 406.5 225.1 408.6 228.0 410.5C230.9 412.4 231.3 413.7 235.0 416.3C238.7 418.9 245.2 423.6 250.0 426.3C254.8 429.0 259.6 431.1 263.8 432.5C268.0 433.9 271.1 434.9 275.0 434.5C278.9 434.1 282.5 431.9 287.5 430.0C292.5 428.1 299.6 425.4 305.0 423.3C310.4 421.2 314.6 419.6 320.0 417.5C325.4 415.4 331.2 412.6 337.5 410.8C343.8 409.1 351.2 408.1 357.5 407.0C363.8 405.9 368.8 405.1 375.0 404.3C381.2 403.5 389.2 403.1 395.0 402.0C400.8 400.9 405.0 398.9 410.0 398.0C415.0 397.1 420.4 396.6 425.0 396.3C429.6 396.0 433.3 396.1 437.5 396.3C441.7 396.5 445.8 397.6 450.0 397.5C454.2 397.4 457.9 396.8 462.5 395.8C467.1 394.9 472.1 393.0 477.5 391.8C482.9 390.6 488.8 389.9 495.0 388.8C501.2 387.7 508.8 386.2 515.0 385.0C521.2 383.8 527.5 382.6 532.5 381.8C537.5 381.0 540.8 380.2 545.0 380.0C549.2 379.8 552.9 380.3 557.5 380.8C562.1 381.3 567.1 381.7 572.5 383.0C577.9 384.3 583.8 386.8 590.0 388.8C596.2 390.8 603.8 393.2 610.0 395.0C616.2 396.8 622.5 397.9 627.5 399.5C632.5 401.1 635.8 402.6 640.0 404.3C644.2 406.1 647.8 407.9 652.5 410.0C657.2 412.1 664.7 415.6 668.0 416.8C671.3 418.1 668.8 416.6 672.5 417.5C676.2 418.4 684.6 421.0 690.0 422.5C695.4 424.0 700.4 425.1 705.0 426.3C709.6 427.6 712.9 429.2 717.5 430.0C722.1 430.8 728.3 431.0 732.5 430.8C736.7 430.6 738.8 430.3 742.5 428.8C746.2 427.3 750.8 424.3 755.0 421.8C759.2 419.3 763.3 416.0 767.5 413.8C771.7 411.6 775.8 410.5 780.0 408.8C784.2 407.1 788.3 405.3 792.5 403.8C796.7 402.3 801.2 401.2 805.0 400.0C808.8 398.8 812.1 397.8 815.0 396.8C817.9 395.9 819.6 394.7 822.5 394.3C825.4 393.9 828.8 394.2 832.5 394.5C836.2 394.8 841.0 396.1 845.0 396.3C849.0 396.5 854.4 395.6 856.3 395.5" stroke="#f5e96b" stroke-width="1" fill="none" stroke-linejoin="round"/>
<path d="M6.2 376.8 L13.8 377.5 L19.5 380.0 L25.0 377.0 L31.3 376.3 L36.3 373.3 L42.5 375.5 L48.8 381.8 L53.8 381.3 L59.5 372.0 L64.5 370.0 L70.0 363.8 L74.3 360.8 L77.5 362.0 L83.8 371.3 L88.8 380.0 L93.8 391.3 L100.0 390.0 L107.5 387.5 L116.3 383.3 L122.5 385.5 L128.8 402.5 L134.3 413.0 L140.0 406.3 L145.8 403.8 L151.8 408.8 L157.5 407.0 L163.8 401.3 L170.0 391.3 L175.0 382.5 L180.0 378.3 L185.8 376.3 L191.3 382.5 L197.5 405.0 L203.0 432.5 L208.8 437.5 L214.5 432.5 L220.0 445.5 L225.5 447.5 L231.3 455.8 L237.5 453.8 L243.8 445.0 L249.3 442.0 L255.0 430.8 L260.0 432.5 L266.3 410.5 L271.8 403.8 L282.5 404.3 L288.8 406.3 L294.5 406.3 L300.0 416.3 L305.8 421.3 L311.8 422.5 L317.5 412.5 L323.8 410.8 L329.3 413.3 L335.0 401.3 L340.8 400.0 L346.3 394.3 L352.0 395.8 L357.5 387.0 L364.3 386.3 L369.3 411.3 L375.0 406.3 L381.3 400.8 L386.3 403.0 L392.5 402.0 L398.3 402.5 L403.8 391.3 L409.3 386.3 L415.0 388.0 L420.8 388.8 L426.8 393.3 L432.5 391.8 L438.3 394.3 L444.3 404.0 L455.5 397.0 L461.3 401.3 L467.0 387.5 L472.5 378.8 L478.0 376.3 L484.5 378.3 L490.0 377.0 L495.5 374.3 L500.8 372.0 L507.0 383.8 L512.5 378.8 L523.8 378.0 L530.0 378.8 L535.5 394.3 L541.3 387.5 L547.0 384.5 L552.5 382.5 L558.8 378.3 L564.3 385.8 L570.0 384.3 L575.8 398.8 L581.8 406.3 L587.5 398.8 L593.0 400.0 L599.3 409.5 L605.0 408.0 L610.8 409.5 L616.3 405.0 L622.0 407.0 L628.0 411.8 L633.8 407.0 L639.3 409.3 L644.5 428.0 L650.0 425.0 L656.3 431.3 L661.8 436.3 L668.0 430.0 L673.8 424.5 L679.3 437.0 L685.0 424.5 L690.5 428.8 L696.8 424.3 L702.5 428.8 L708.0 435.0 L713.8 437.0 L719.5 430.0 L725.0 429.5 L730.8 430.8 L736.8 420.0 L742.0 420.8 L747.5 383.8 L753.3 381.8 L759.3 384.3 L765.0 385.0 L770.8 390.0 L776.8 394.3 L782.0 387.5 L787.5 398.3 L793.3 409.3 L799.3 406.3 L805.0 406.3 L810.8 404.3 L816.3 398.3 L822.0 388.0 L827.5 390.0 L833.3 388.8 L839.3 392.0 L845.0 393.0 L850.8 388.0 L856.3 384.3" stroke="#9580d8" stroke-width="1" fill="none" stroke-linejoin="round"/>
<rect x="867.0" y="10.7" width="38.5" height="455.1" fill="#fff"/>
<path d="M866.5 10.2V483M6 466.3H906" stroke="#74767f" stroke-width="1" fill="none"/>
<rect x="868.5" y="12.8" width="35" height="15" rx="2" fill="#fff" stroke="#e6e6ea" stroke-width="1"/>
<rect x="867.0" y="30.7" width="33.5" height="9" rx="1" fill="#f77c80"/>
<rect x="867.0" y="39.7" width="35.8" height="18.2" rx="1" fill="#26a69a"/>
<rect x="867.0" y="58.8" width="33.5" height="9" rx="1" fill="#f77c80"/>
<rect x="867.0" y="89.9" width="33.5" height="9.5" rx="1" fill="#7cc47f"/>
<rect x="867.0" y="100.4" width="33.5" height="9.5" rx="1" fill="#7cc47f"/>
<rect x="867.0" y="181.2" width="33.5" height="10.1" rx="1" fill="#7cc47f"/>
<rect x="867.0" y="191.2" width="33.5" height="10" rx="1" fill="#7cc47f"/>
<g fill="#131722"><path d="M7.2 496.2h7v9.2h-3.7v-5.5h-3.3z"/><circle cx="17" cy="498" r="1.6"/><path d="M19.9 496.2h4.8l-3.7 9.2h-4.6z"/></g>
</svg>
<div class="t hd" style="top:-1.4px;left:6.0px;">gmzern created with TradingView.com, Aug 27, 2025 14:34 UTC-4</div>
<div class="t lg" style="top:14.0px;left:10.9px;">S&amp;P 500 Index · 4h · OANDA</div>
<div class="t lg" style="top:14.0px;left:105.3px;">O<b>6,480.1</b></div>
<div class="t lg" style="top:14.0px;left:138.2px;">H<b>6,491.0</b></div>
<div class="t lg" style="top:14.0px;left:172.0px;">L<b>6,478.1</b></div>
<div class="t lg" style="top:14.0px;left:204.0px;">C<b>6,489.9</b></div>
<div class="t lg" style="top:14.0px;left:236.8px;"><b>+9.3 (+0.14%)</b></div>
<div class="t lg" style="top:24.6px;left:10.9px;">SMA (50, close, 0, SMA, 5)</div>
<div class="t lg" style="top:24.6px;left:98.7px;"><i>6,433.3</i></div>
<div class="t lg" style="top:353.0px;left:10.5px;">RSI (14, close, SMA, 14, 2)</div>
<div class="t lg" style="top:353.0px;left:100.0px;"><u>65.52</u></div>
<div class="t lg" style="top:353.0px;left:121.7px;"><s>58.44</s></div>
<div class="t lg" style="top:353.0px;left:144.5px;">∅ ∅</div>
<div class="t ax" style="top:15.2px;left:874.2px;font-size:6.6px;">USD</div>
<div class="t ax" style="top:332.6px;left:871.9px;">6,200.0</div>
<div class="t ax" style="top:312.5px;left:871.9px;">6,220.0</div>
<div class="t ax" style="top:292.3px;left:871.9px;">6,240.0</div>
<div class="t ax" style="top:272.1px;left:871.9px;">6,260.0</div>
<div class="t ax" style="top:252.0px;left:871.9px;">6,280.0</div>
<div class="t ax" style="top:231.8px;left:871.9px;">6,300.0</div>
<div class="t ax" style="top:211.7px;left:871.9px;">6,320.0</div>
<div class="t ax" style="top:171.3px;left:871.9px;">6,360.0</div>
<div class="t ax" style="top:151.2px;left:871.9px;">6,380.0</div>
<div class="t ax" style="top:131.0px;left:871.9px;">6,400.0</div>
<div class="t ax" style="top:110.9px;left:871.9px;">6,420.0</div>
<div class="t ax" style="top:70.5px;left:871.9px;">6,460.0</div>
<div class="t ax" style="top:355.5px;left:871.9px;">80.00</div>
<div class="t ax" style="top:388.1px;left:871.9px;">60.00</div>
<div class="t ax" style="top:420.7px;left:871.9px;">40.00</div>
<div class="t ax" style="top:453.3px;left:871.9px;">20.00</div>
<div class="t ax w" style="top:30.2px;left:871.9px;">6,490.0</div>
<div class="t ax w b" style="top:39.7px;left:871.9px;">6,489.9</div>
<div class="t ax w" style="top:47.9px;left:871.9px;">02:25:43</div>
<div class="t ax w" style="top:58.3px;left:871.9px;">6,480.0</div>
<div class="t ax k" style="top:89.6px;left:871.9px;">6,440.6</div>
<div class="t ax k" style="top:100.1px;left:871.9px;">6,429.9</div>
<div class="t ax k" style="top:181.0px;left:871.9px;">6,350.2</div>
<div class="t ax k" style="top:191.4px;left:871.9px;">6,340.0</div>
<div class="t ax" style="top:469.6px;left:-36.0px;width:100px;text-align:center;">24</div>
<div class="t ax" style="top:469.6px;left:-1.6px;width:100px;text-align:center;">25</div>
<div class="t ax" style="top:469.6px;left:32.8px;width:100px;text-align:center;">28</div>
<div class="t ax" style="top:469.6px;left:67.3px;width:100px;text-align:center;">29</div>
<div class="t ax" style="top:469.6px;left:101.7px;width:100px;text-align:center;">30</div>
<div class="t ax" style="top:469.6px;left:136.1px;width:100px;text-align:center;">31</div>
<div class="t ax" style="top:469.6px;left:170.5px;width:100px;text-align:center;">Aug</div>
<div class="t ax" style="top:469.6px;left:204.9px;width:100px;text-align:center;">4</div>
<div class="t ax" style="top:469.6px;left:239.4px;width:100px;text-align:center;">5</div>
<div class="t ax" style="top:469.6px;left:273.8px;width:100px;text-align:center;">6</div>
<div class="t ax" style="top:469.6px;left:308.2px;width:100px;text-align:center;">7</div>
<div class="t ax" style="top:469.6px;left:342.6px;width:100px;text-align:center;">8</div>
<div class="t ax" style="top:469.6px;left:377.0px;width:100px;text-align:center;">11</div>
<div class="t ax" style="top:469.6px;left:411.5px;width:100px;text-align:center;">12</div>
<div class="t ax" style="top:469.6px;left:445.9px;width:100px;text-align:center;">13</div>
<div class="t ax" style="top:469.6px;left:480.3px;width:100px;text-align:center;">14</div>
<div class="t ax" style="top:469.6px;left:514.7px;width:100px;text-align:center;">15</div>
<div class="t ax" style="top:469.6px;left:549.1px;width:100px;text-align:center;">18</div>
<div class="t ax" style="top:469.6px;left:583.6px;width:100px;text-align:center;">19</div>
<div class="t ax" style="top:469.6px;left:618.0px;width:100px;text-align:center;">20</div>
<div class="t ax" style="top:469.6px;left:652.4px;width:100px;text-align:center;">21</div>
<div class="t ax" style="top:469.6px;left:686.8px;width:100px;text-align:center;">22</div>
<div class="t ax" style="top:469.6px;left:721.2px;width:100px;text-align:center;">25</div>
<div class="t ax" style="top:469.6px;left:755.7px;width:100px;text-align:center;">26</div>
<div class="t ax" style="top:469.6px;left:790.1px;width:100px;text-align:center;">27</div>
<div class="t logo" style="top:494.7px;left:29.0px;">TradingView</div>
</body></html>
